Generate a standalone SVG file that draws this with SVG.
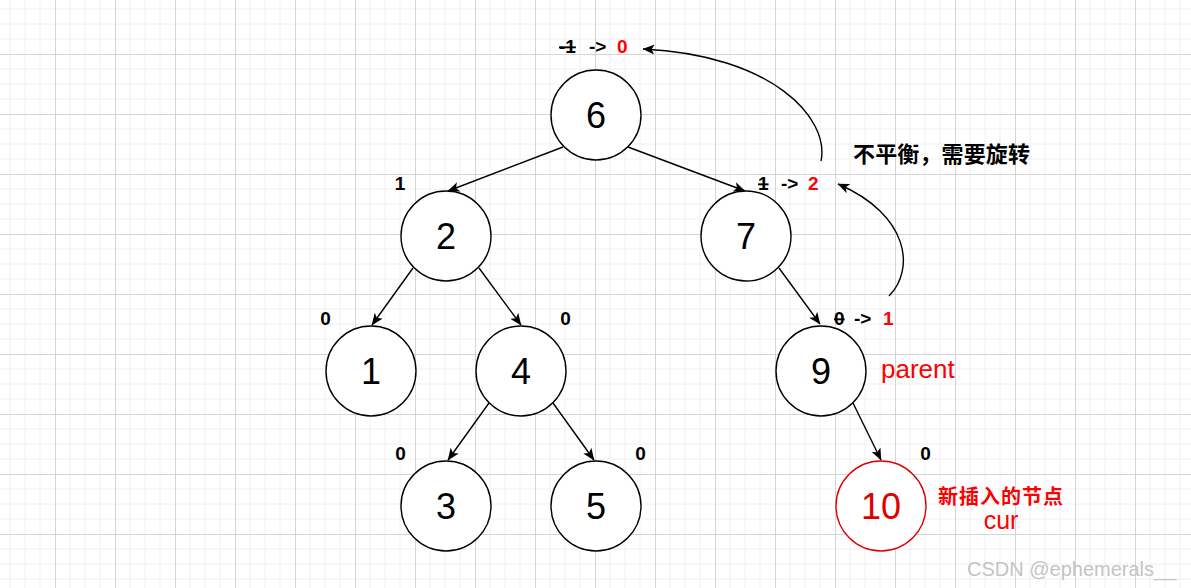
<svg xmlns="http://www.w3.org/2000/svg" width="1191" height="588" viewBox="0 0 1191 588">
<defs>
<pattern id="grid" x="55" y="54" width="60" height="60" patternUnits="userSpaceOnUse">
<path d="M15 0V60M30 0V60M45 0V60M0 15H60M0 30H60M0 45H60" stroke="#f0f0f0" stroke-width="1" fill="none"/>
<path d="M0.5 0V60M0 0.5H60" stroke="#d4d4d4" stroke-width="1" fill="none"/>
</pattern>
<marker id="ah" viewBox="0 0 12 10" refX="11.5" refY="5" markerWidth="12" markerHeight="10" orient="auto" markerUnits="userSpaceOnUse">
<path d="M0,0 L12,5 L0,10 L3,5 z" fill="#000"/>
</marker>
<style>
.node circle{fill:#fff;stroke:#000;stroke-width:1.4}
.node text{font-family:"Liberation Sans",Arial,sans-serif;font-size:36px;text-anchor:middle;fill:#000}
.edge{fill:none;stroke:#000;stroke-width:1.4;marker-end:url(#ah)}
.bf{font-family:"Liberation Sans",Arial,sans-serif;font-size:19px;font-weight:bold;fill:#000}
.red{fill:#f00}
.cjk{font-family:"Liberation Sans","Noto Sans CJK SC",sans-serif;font-weight:bold}
</style>
</defs>
<rect width="1191" height="588" fill="#fff"/>
<rect width="1191" height="588" fill="url(#grid)"/>

<g id="connectors">
<path class="edge" d="M563 147 L448 191"/>
<path class="edge" d="M628 147 L745 191"/>
<path class="edge" d="M413 268 L372 325"/>
<path class="edge" d="M479 268 L521 325"/>
<path class="edge" d="M779 268 L820 324"/>
<path class="edge" d="M489 403 L448 460"/>
<path class="edge" d="M553 403 L594 460"/>
<path class="edge" d="M853 403 L881 460"/>
<path class="edge" d="M821 161 C830 118, 772 55, 643 49"/>
<path class="edge" d="M889 296 C915 270, 910 215, 838 184"/>
</g>

<g id="node6" class="node"><circle cx="596" cy="115" r="45"/><text x="596" y="128">6</text></g>
<g id="node2" class="node"><circle cx="446" cy="236" r="45"/><text x="446" y="249">2</text></g>
<g id="node7" class="node"><circle cx="746" cy="236" r="45"/><text x="746" y="249">7</text></g>
<g id="node1" class="node"><circle cx="371" cy="371" r="45"/><text x="371" y="384">1</text></g>
<g id="node4" class="node"><circle cx="521" cy="371" r="45"/><text x="521" y="384">4</text></g>
<g id="node9" class="node"><circle cx="821" cy="371" r="45"/><text x="821" y="384">9</text></g>
<g id="node3" class="node"><circle cx="446" cy="506" r="45"/><text x="446" y="519">3</text></g>
<g id="node5" class="node"><circle cx="596" cy="506" r="45"/><text x="596" y="519">5</text></g>
<g id="node10" class="node"><circle cx="881" cy="506" r="45" style="stroke:#e00000"/><text x="881" y="519" style="fill:#e00000">10</text></g>

<g id="labels">
<text class="bf" y="53" font-size="20"><tspan x="559" text-decoration="line-through">-1</tspan><tspan x="589">-&gt;</tspan><tspan x="617" class="red">0</tspan></text>
<text class="bf" y="190" font-size="20"><tspan x="758" text-decoration="line-through">1</tspan><tspan x="781">-&gt;</tspan><tspan x="808" class="red">2</tspan></text>
<text class="bf" y="325" font-size="20"><tspan x="834" text-decoration="line-through">0</tspan><tspan x="854">-&gt;</tspan><tspan x="883" class="red">1</tspan></text>
<text class="bf" x="400" y="190" text-anchor="middle">1</text>
<text class="bf" x="325.5" y="325" text-anchor="middle">0</text>
<text class="bf" x="565.5" y="325" text-anchor="middle">0</text>
<text class="bf" x="400.5" y="460" text-anchor="middle">0</text>
<text class="bf" x="640.5" y="460" text-anchor="middle">0</text>
<text class="bf" x="925.5" y="460" text-anchor="middle">0</text>
<text class="cjk" x="853" y="162" font-size="22" textLength="177" lengthAdjust="spacing">不平衡，需要旋转</text>
<text x="881" y="378" font-family="Liberation Sans,Arial,sans-serif" font-size="26" fill="#f00">parent</text>
<text class="cjk" x="938" y="504" font-size="20" fill="#f00" textLength="125" lengthAdjust="spacing">新插入的节点</text>
<text x="1001" y="529" font-family="Liberation Sans,Arial,sans-serif" font-size="25" fill="#f00" text-anchor="middle">cur</text>
<text x="967" y="576" font-family="Liberation Sans,Arial,sans-serif" font-size="20" fill="#c4c4c4">CSDN @ephemerals__</text>
</g>
</svg>
